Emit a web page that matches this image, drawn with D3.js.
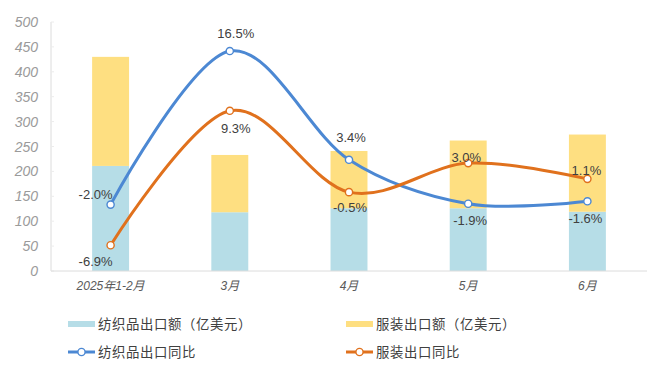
<!DOCTYPE html>
<html>
<head>
<meta charset="utf-8">
<script src="https://cdn.jsdelivr.net/npm/d3@7"></script>
<style>
  html, body { margin: 0; padding: 0; background: #fff; }
  svg { display: block; }
</style>
</head>
<body>
<div id="chart"></div>
<script>
const width = 666
const height = 373

// data
const categories = ["2025年1-2月", "3月", "4月", "5月", "6月"]
const textileExport = [211, 118, 126, 126, 119]   // 亿美元
const apparelExport = [219, 115, 115, 136, 155]   // 亿美元
const textileYoY = [-2.0, 16.5, 3.4, -1.9, -1.6]  // %
const apparelYoY = [-6.9, 9.3, -0.5, 3.0, 1.1]    // %
const yTicks = [0, 50, 100, 150, 200, 250, 300, 350, 400, 450, 500]

// label nudges relative to each point (dx, dy to baseline)
const textileLabelNudge = [[-15, -6], [6, -13], [2, -18], [2, 21], [-2, 22]]
const apparelLabelNudge = [[-15, 21], [6, 22], [1, 20], [-2, -1], [-1, -4]]

const colors = {
  textileBar: "#b6dde7",
  apparelBar: "#fedf81",
  textileLine: "#4c88d3",
  apparelLine: "#e0711d"
}

const margin = { top: 22, right: 19, bottom: 102, left: 51 }

const svg = d3.select("#chart").append("svg")
  .attr("width", width)
  .attr("height", height)
  .attr("viewBox", [0, 0, width, height])

const x = d3.scaleBand()
  .domain(categories)
  .range([margin.left, width - margin.right])
  .paddingInner(0.69)
  .paddingOuter(0.345)

const y = d3.scaleLinear()
  .domain([0, 500])
  .range([height - margin.bottom, margin.top])

// hidden secondary axis for the YoY lines
const y2 = d3.scaleLinear()
  .domain([-10, 20])
  .range([height - margin.bottom, margin.top])

// axes
const axisColor = "#dcdcdc"
svg.append("line")
  .attr("x1", margin.left).attr("x2", margin.left)
  .attr("y1", y(500)).attr("y2", y(0))
  .attr("stroke", axisColor)

svg.append("g")
  .selectAll("line")
  .data(yTicks)
  .join("line")
  .attr("x1", margin.left).attr("x2", margin.left + 3)
  .attr("y1", d => y(d)).attr("y2", d => y(d))
  .attr("stroke", "#ececec")

svg.append("g")
  .selectAll("text")
  .data(yTicks)
  .join("text")
  .attr("x", 38)
  .attr("y", d => y(d))
  .attr("dy", "0.36em")
  .attr("text-anchor", "end")
  .attr("font-family", "Liberation Sans, Arial, sans-serif")
  .attr("font-style", "italic")
  .attr("font-size", 14)
  .attr("fill", "#9a9a9a")
  .text(d => d)

// stacked bars
const stackData = categories.map((c, i) => ({ cat: c, textile: textileExport[i], apparel: apparelExport[i] }))
const series = d3.stack().keys(["textile", "apparel"])(stackData)

svg.append("g")
  .selectAll("g")
  .data(series)
  .join("g")
  .attr("fill", d => d.key === "textile" ? colors.textileBar : colors.apparelBar)
  .selectAll("rect")
  .data(d => d)
  .join("rect")
  .attr("x", d => x(d.data.cat))
  .attr("width", x.bandwidth())
  .attr("y", d => y(d[1]))
  .attr("height", d => y(d[0]) - y(d[1]))

svg.append("line")
  .attr("x1", margin.left).attr("x2", width - margin.right)
  .attr("y1", y(0)).attr("y2", y(0))
  .attr("stroke", axisColor)

svg.append("g")
  .selectAll("text")
  .data(categories)
  .join("text")
  .attr("x", d => x(d) + x.bandwidth() / 2)
  .attr("y", 290)
  .attr("text-anchor", "middle")
  .attr("font-family", "Liberation Sans, Noto Sans CJK SC, sans-serif")
  .attr("font-style", "italic")
  .attr("font-size", 12)
  .attr("fill", "#595959")
  .text(d => d)

// lines
const cx = i => x(categories[i]) + x.bandwidth() / 2
const line = d3.line()
  .x((d, i) => cx(i))
  .y(d => y2(d))
  .curve(d3.curveCardinal.tension(0))

function drawLine(values, color, nudges) {
  const g = svg.append("g")
  g.append("path")
    .datum(values)
    .attr("fill", "none")
    .attr("stroke", color)
    .attr("stroke-width", 3)
    .attr("stroke-linecap", "round")
    .attr("d", line)
  g.selectAll("circle")
    .data(values)
    .join("circle")
    .attr("cx", (d, i) => cx(i))
    .attr("cy", d => y2(d))
    .attr("r", 3.6)
    .attr("fill", "#fff")
    .attr("stroke", color)
    .attr("stroke-width", 1.4)
  g.selectAll("text")
    .data(values)
    .join("text")
    .attr("x", (d, i) => cx(i) + nudges[i][0])
    .attr("y", (d, i) => y2(d) + nudges[i][1])
    .attr("text-anchor", "middle")
    .attr("font-family", "Liberation Sans, Arial, sans-serif")
    .attr("font-size", 13)
    .attr("fill", "#404040")
    .text(d => d.toFixed(1) + "%")
}

drawLine(textileYoY, colors.textileLine, textileLabelNudge)
drawLine(apparelYoY, colors.apparelLine, apparelLabelNudge)

// legend
const legendItems = [
  { label: "纺织品出口额（亿美元）", type: "bar", color: colors.textileBar, x: 68, y: 324 },
  { label: "服装出口额（亿美元）", type: "bar", color: colors.apparelBar, x: 346, y: 324 },
  { label: "纺织品出口同比", type: "line", color: colors.textileLine, x: 68, y: 352 },
  { label: "服装出口同比", type: "line", color: colors.apparelLine, x: 346, y: 352 }
]

const legend = svg.append("g")
  .selectAll("g")
  .data(legendItems)
  .join("g")
  .attr("transform", d => `translate(${d.x},${d.y})`)

legend.filter(d => d.type === "bar")
  .append("rect")
  .attr("x", 0).attr("y", -3)
  .attr("width", 27).attr("height", 6)
  .attr("fill", d => d.color)

legend.filter(d => d.type === "line")
  .append("line")
  .attr("x1", 0).attr("x2", 27)
  .attr("stroke", d => d.color)
  .attr("stroke-width", 3)

legend.filter(d => d.type === "line")
  .append("circle")
  .attr("cx", 13.5).attr("r", 3.6)
  .attr("fill", "#fff")
  .attr("stroke", d => d.color)
  .attr("stroke-width", 1.4)

legend.append("text")
  .attr("x", 30)
  .attr("dy", "0.36em")
  .attr("font-family", "Noto Sans CJK SC, sans-serif")
  .attr("font-size", 13.4)
  .attr("letter-spacing", 0.6)
  .attr("fill", "#404040")
  .text(d => d.label)
</script>
</body>
</html>
